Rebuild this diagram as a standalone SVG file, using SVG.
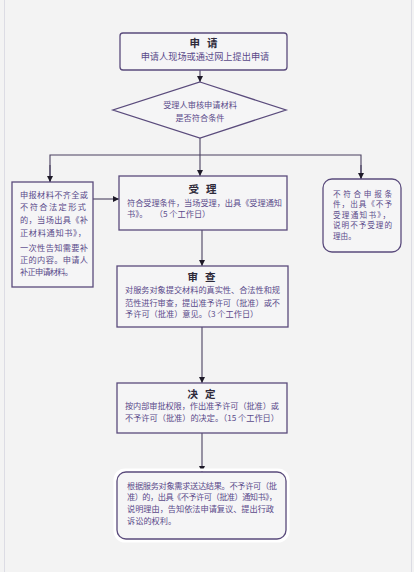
<svg xmlns="http://www.w3.org/2000/svg" width="414" height="572" viewBox="0 0 414 572">
<style>
.box{fill:#f5f5f6;stroke:#5a4b7c;stroke-width:1.3}
.t{font-family:"Noto Sans CJK SC","Noto Sans",sans-serif;font-size:8.2px;fill:#5a4a8a;dominant-baseline:central;white-space:pre}
.s{font-size:7.6px}
.h{font-family:"Noto Sans CJK SC","Noto Sans",sans-serif;font-size:10.5px;font-weight:bold;fill:#2e2a3a;dominant-baseline:central;text-anchor:middle;letter-spacing:7px}
.c{fill:none;stroke:#4a4060;stroke-width:1.1}
</style>
<defs>
<marker id="ar" viewBox="0 0 10 10" refX="10" refY="5" markerWidth="6" markerHeight="6" orient="auto" markerUnits="userSpaceOnUse">
<path d="M0,0 L10,5 L0,10 z" fill="#1e1a28"/>
</marker>
</defs>
<rect x="0" y="0" width="414" height="572" fill="#f3f3f3"/>
<line x1="4.5" y1="0" x2="4.5" y2="572" stroke="#dcdce4" stroke-width="1"/>
<line x1="411.5" y1="0" x2="411.5" y2="572" stroke="#dcdce4" stroke-width="1"/>

<g id="connectors">
<line class="c" x1="200" y1="70" x2="200" y2="82" marker-end="url(#ar)"/>
<line class="c" x1="200" y1="138" x2="200" y2="176" marker-end="url(#ar)"/>
<polyline class="c" points="50,182 50,155 361,155 361,179"/>
<line class="c" x1="50" y1="165" x2="50" y2="182" marker-end="url(#ar)"/>
<line class="c" x1="361" y1="165" x2="361" y2="179" marker-end="url(#ar)"/>
<line class="c" x1="93" y1="199" x2="119" y2="199" marker-end="url(#ar)"/>
<line class="c" x1="202" y1="230" x2="202" y2="266" marker-end="url(#ar)"/>
<line class="c" x1="202" y1="327" x2="202" y2="383" marker-end="url(#ar)"/>
<line class="c" x1="202" y1="433" x2="202" y2="472" marker-end="url(#ar)"/>
</g>

<g id="apply">
<rect class="box" x="120" y="33" width="167" height="37" rx="3"/>
<text class="h" x="207" y="42">申请</text>
<text class="t" x="205" y="56" text-anchor="middle" style="font-size:9.2px">申请人现场或通过网上提出申请</text>
</g>

<g id="check">
<polygon class="box" points="200,82 286,110 200,138 113,110"/>
<text class="t" x="200" y="104" text-anchor="middle">受理人审核申请材料</text>
<text class="t" x="200" y="117" text-anchor="middle">是否符合条件</text>
</g>

<g id="supplement">
<rect class="box" x="12" y="182" width="81" height="105"/>
<text class="t" x="20" y="194" textLength="68" lengthAdjust="spacing">申报材料不齐全或</text>
<text class="t" x="20" y="206" textLength="66" lengthAdjust="spacing">不符合法定形式</text>
<text class="t" x="20" y="219" textLength="68" lengthAdjust="spacing">的，当场出具《补</text>
<text class="t" x="20" y="232" textLength="66" lengthAdjust="spacing">正材料通知书》，</text>
<text class="t" x="20" y="247" textLength="68" lengthAdjust="spacing">一次性告知需要补</text>
<text class="t" x="20" y="259" textLength="68" lengthAdjust="spacing">正的内容。申请人</text>
<text class="t" x="20" y="271" textLength="53" lengthAdjust="spacing">补正申请材料。</text>
</g>

<g id="accept">
<rect class="box" x="119" y="176" width="168" height="54"/>
<text class="h" x="206" y="188">受理</text>
<text class="t" x="127" y="202" textLength="155" lengthAdjust="spacing">符合受理条件，当场受理，出具《受理通知</text>
<text class="t" x="127" y="213">书》。    （5 个工作日）</text>
</g>

<g id="reject">
<rect class="box" x="323" y="179" width="78" height="73" rx="9"/>
<text class="t s" x="333" y="193" textLength="59" lengthAdjust="spacing">不符合申报条</text>
<text class="t s" x="333" y="203.5" textLength="59" lengthAdjust="spacing">件，出具《不予</text>
<text class="t s" x="333" y="214" textLength="57" lengthAdjust="spacing">受理通知书》，</text>
<text class="t s" x="333" y="224.5" textLength="59" lengthAdjust="spacing">说明不予受理的</text>
<text class="t s" x="333" y="235">理由。</text>
</g>

<g id="review">
<rect class="box" x="117" y="266" width="171" height="61"/>
<text class="h" x="205" y="276">审查</text>
<text class="t" x="125" y="289" textLength="155" lengthAdjust="spacing">对服务对象提交材料的真实性、合法性和规</text>
<text class="t" x="125" y="302" textLength="155" lengthAdjust="spacing">范性进行审查，提出准予许可（批准）或不</text>
<text class="t" x="125" y="313">予许可（批准）意见。（3 个工作日）</text>
</g>

<g id="decide">
<rect class="box" x="117" y="383" width="170" height="50"/>
<text class="h" x="205" y="393">决定</text>
<text class="t" x="125" y="405" textLength="154" lengthAdjust="spacing">按内部审批权限，作出准予许可（批准）或</text>
<text class="t" x="125" y="417" textLength="154" lengthAdjust="spacing">不予许可（批准）的决定。（15 个工作日）</text>
</g>

<g id="deliver">
<rect x="115" y="470" width="173" height="71" rx="10" fill="none" stroke="#ffffff" stroke-width="3"/>
<rect class="box" x="117" y="472" width="169" height="67" rx="9"/>
<text class="t" x="127" y="485" textLength="150" lengthAdjust="spacing">根据服务对象需求送达结果。不予许可（批</text>
<text class="t" x="127" y="496" textLength="150" lengthAdjust="spacing">准）的，出具《不予许可（批准）通知书》，</text>
<text class="t" x="127" y="508" textLength="147" lengthAdjust="spacing">说明理由，告知依法申请复议、提出行政</text>
<text class="t" x="127" y="520">诉讼的权利。</text>
</g>
</svg>
